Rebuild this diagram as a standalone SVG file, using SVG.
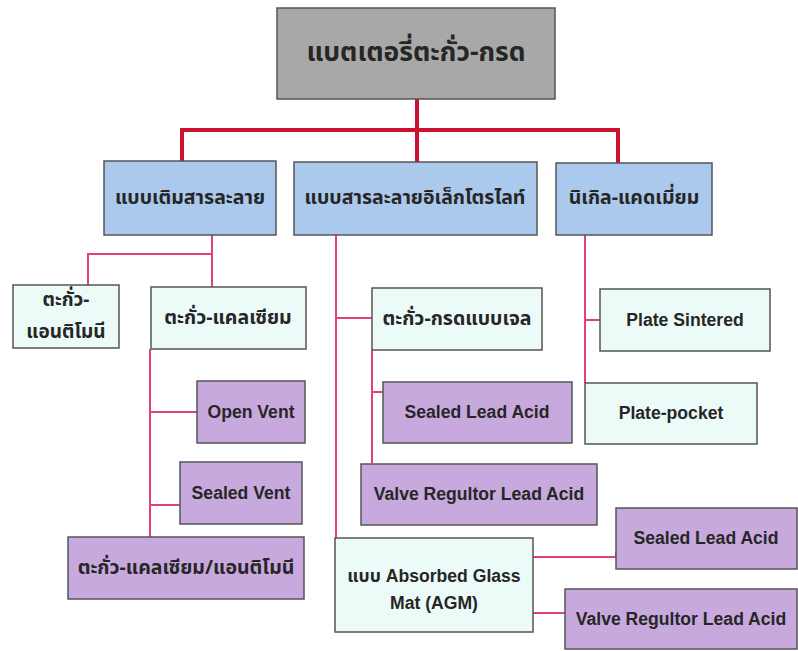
<svg xmlns="http://www.w3.org/2000/svg" width="798" height="651" viewBox="0 0 798 651">
<style>
  .box{stroke:#555;stroke-width:1.5}
  .gray{fill:#a8a8a8}
  .blue{fill:#abc9ec}
  .pale{fill:#ecfaf8}
  .purple{fill:#c8a9de}
  .t{font-family:"Noto Sans Thai","Noto Sans","Liberation Sans",sans-serif;font-weight:bold;fill:#262626;text-anchor:middle;dominant-baseline:central}
  .e{font-family:"Liberation Sans",Arial,sans-serif;font-weight:bold;font-size:17.6px;fill:#262626;text-anchor:middle;dominant-baseline:central}
  .red{fill:none;stroke:#cc1030;stroke-width:4}
  .pink{fill:none;stroke:#e0407c;stroke-width:2}
</style>
<rect width="798" height="651" fill="#ffffff"/>
<g id="connectors">
  <polyline class="red" points="417,99 417,162"/>
  <polyline class="red" points="182,161 182,130 618,130 618,163"/>
  <polyline class="pink" points="88,286 88,254 212,254"/>
  <polyline class="pink" points="212,235 212,287"/>
  <polyline class="pink" points="150,349 150,537"/>
  <polyline class="pink" points="150,412 197,412"/>
  <polyline class="pink" points="150,505 180,505"/>
  <polyline class="pink" points="336,235 336,538"/>
  <polyline class="pink" points="336,318 372,318"/>
  <polyline class="pink" points="372,350 372,463"/>
  <polyline class="pink" points="372,392 383,392"/>
  <polyline class="pink" points="533,557 616,557 616,552"/>
  <polyline class="pink" points="533,613 565,613"/>
  <polyline class="pink" points="585,235 585,383"/>
  <polyline class="pink" points="585,320 600,320"/>
</g>
<g id="n-root"><rect class="box gray" x="277" y="8" width="278" height="91"/><text class="t" x="416" y="53" font-size="26.5">แบตเตอรี่ตะกั่ว-กรด</text></g>
<g id="n-flooded"><rect class="box blue" x="104" y="161" width="172" height="74"/><text class="t" x="190" y="198" font-size="19.5">แบบเติมสารละลาย</text></g>
<g id="n-electrolyte"><rect class="box blue" x="294" y="162" width="243" height="73"/><text class="t" x="415" y="198" font-size="19.5">แบบสารละลายอิเล็กโตรไลท์</text></g>
<g id="n-nicd"><rect class="box blue" x="556" y="163" width="156" height="72"/><text class="t" x="634" y="198" font-size="19.5">นิเกิล-แคดเมี่ยม</text></g>
<g id="n-antimony"><rect class="box pale" x="13" y="285" width="106" height="63"/><text class="t" x="66" y="300" font-size="19">ตะกั่ว-</text><text class="t" x="66" y="332" font-size="19">แอนติโมนี</text></g>
<g id="n-calcium"><rect class="box pale" x="151" y="287" width="155" height="62"/><text class="t" x="228" y="318" font-size="19.5">ตะกั่ว-แคลเซียม</text></g>
<g id="n-openvent"><rect class="box purple" x="197" y="381" width="108" height="62"/><text class="e" x="251" y="412">Open Vent</text></g>
<g id="n-sealedvent"><rect class="box purple" x="180" y="462" width="122" height="62"/><text class="e" x="241" y="493">Sealed Vent</text></g>
<g id="n-calcium-antimony"><rect class="box purple" x="68" y="537" width="236" height="62"/><text class="t" x="186" y="568" font-size="19.5">ตะกั่ว-แคลเซียม/แอนติโมนี</text></g>
<g id="n-gel"><rect class="box pale" x="372" y="288" width="170" height="62"/><text class="t" x="457" y="319" font-size="19.5">ตะกั่ว-กรดแบบเจล</text></g>
<g id="n-sla1"><rect class="box purple" x="383" y="382" width="189" height="61"/><text class="e" x="477" y="412">Sealed Lead Acid</text></g>
<g id="n-vrla1"><rect class="box purple" x="361" y="464" width="236" height="61"/><text class="e" x="479" y="494">Valve Regultor Lead Acid</text></g>
<g id="n-agm"><rect class="box pale" x="335" y="538" width="198" height="94"/><text class="e" x="434" y="576"><tspan font-family="Noto Sans Thai,Noto Sans,sans-serif">แบบ</tspan> Absorbed Glass</text><text class="e" x="434" y="603">Mat (AGM)</text></g>
<g id="n-sla2"><rect class="box purple" x="616" y="508" width="181" height="61"/><text class="e" x="706" y="538">Sealed Lead Acid</text></g>
<g id="n-vrla2"><rect class="box purple" x="565" y="589" width="232" height="60"/><text class="e" x="681" y="619">Valve Regultor Lead Acid</text></g>
<g id="n-sintered"><rect class="box pale" x="600" y="289" width="170" height="62"/><text class="e" x="685" y="320">Plate Sintered</text></g>
<g id="n-pocket"><rect class="box pale" x="585" y="383" width="172" height="61"/><text class="e" x="671" y="413">Plate-pocket</text></g>
</svg>
